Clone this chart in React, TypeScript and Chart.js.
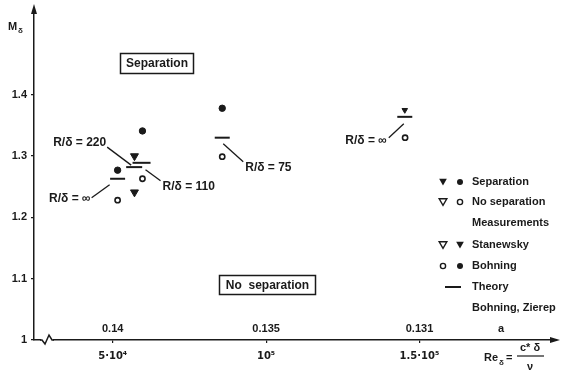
import React, { useEffect, useRef } from 'react';
import { Chart, registerables } from 'chart.js';

Chart.register(...registerables);

// ---------- data ----------
const xTickValues = [50000, 100000, 150000];
const xTickLabels = ['5·10⁴', '10⁵', '1.5·10⁵'];
const alphaLabels = ['0.14', '0.135', '0.131'];
const yTickValues = [1, 1.1, 1.2, 1.3, 1.4];

// Stanewsky – separation (▼)
const stanSepX = [57100, 145200];
const stanSepY = [1.3, 1.375];
// Stanewsky – no separation (▽)
const stanNoSepX = [57100];
const stanNoSepY = [1.241];
// Bohning – separation (●)
const bohSepX = [51600, 59700, 85700];
const bohSepY = [1.277, 1.341, 1.378];
// Bohning – no separation (○)
const bohNoSepX = [51600, 59700, 85700, 145300];
const bohNoSepY = [1.228, 1.263, 1.299, 1.33];
// Theory (Bohning, Zierep)
const theoryX = [51600, 57000, 59400, 85700, 145200];
const theoryY = [1.263, 1.282, 1.289, 1.33, 1.364];
const theoryLabels = ['R/δ = ∞', 'R/δ = 220', 'R/δ = 110', 'R/δ = 75', 'R/δ = ∞'];

const legendRows = ['Separation', 'No separation', 'Measurements', 'Stanewsky', 'Bohning', 'Theory', 'Bohning, Zierep'];

// ---------- style ----------
const INK = '#1a1a1a';
const FAMILY = '"Liberation Sans", Arial, "DejaVu Sans", sans-serif';
const f = (size: number) => `bold ${size}px ${FAMILY}`;

// leader-line layout for theory labels: [startDx, startDy, endDx, endDy, textDx, textDy, align]
const labelLayout: [number, number, number, number, number, number, CanvasTextAlign][] = [
  [-8, 6, -26, 19, -27, 20, 'right'],
  [-3, -2, -27, -20, -28, -24, 'right'],
  [4, 7, 19, 18, 21, 24, 'left'],
  [1, 6, 21, 24, 23, 30, 'left'],
  [-1, 7, -16, 21, -18, 24, 'right'],
];

const toPts = (xs: number[], ys: number[]) => xs.map((x, i) => ({ x, y: ys[i] }));

function drawTri(ctx: CanvasRenderingContext2D, cx: number, cy: number, r: number, fill: boolean) {
  ctx.beginPath();
  ctx.moveTo(cx - r * 0.87, cy - r * 0.5);
  ctx.lineTo(cx + r * 0.87, cy - r * 0.5);
  ctx.lineTo(cx, cy + r);
  ctx.closePath();
  if (fill) ctx.fill();
  else ctx.stroke();
}
function drawCirc(ctx: CanvasRenderingContext2D, cx: number, cy: number, r: number, fill: boolean) {
  ctx.beginPath();
  ctx.arc(cx, cy, r, 0, Math.PI * 2);
  if (fill) ctx.fill();
  else ctx.stroke();
}

const extras = {
  id: 'extras',
  afterDraw(chart: any) {
    const { ctx, chartArea: ca, scales } = chart;
    const xs = scales.x;
    const ys = scales.y;
    ctx.save();
    ctx.strokeStyle = INK;
    ctx.fillStyle = INK;
    ctx.lineWidth = 1.5;

    // y arrow
    ctx.beginPath();
    ctx.moveTo(ca.left, ca.top);
    ctx.lineTo(ca.left, 8);
    ctx.stroke();
    ctx.beginPath();
    ctx.moveTo(ca.left, 4);
    ctx.lineTo(ca.left - 3, 14);
    ctx.lineTo(ca.left + 3, 14);
    ctx.closePath();
    ctx.fill();
    // x arrow
    ctx.beginPath();
    ctx.moveTo(ca.right, ca.bottom);
    ctx.lineTo(556, ca.bottom);
    ctx.stroke();
    ctx.beginPath();
    ctx.moveTo(560, ca.bottom);
    ctx.lineTo(550, ca.bottom - 3);
    ctx.lineTo(550, ca.bottom + 3);
    ctx.closePath();
    ctx.fill();

    // axis break squiggle
    ctx.fillStyle = '#fff';
    ctx.fillRect(41, ca.bottom - 2, 12, 4);
    ctx.fillStyle = INK;
    ctx.beginPath();
    ctx.moveTo(40, ca.bottom);
    ctx.lineTo(42, ca.bottom);
    ctx.lineTo(45, ca.bottom + 4);
    ctx.lineTo(49, ca.bottom - 5);
    ctx.lineTo(52, ca.bottom);
    ctx.lineTo(54, ca.bottom);
    ctx.stroke();

    // M_delta
    ctx.textBaseline = 'middle';
    ctx.textAlign = 'left';
    ctx.font = f(11);
    ctx.fillText('M', 8, 27);
    ctx.font = f(8);
    ctx.fillText('δ', 18, 31);

    // alpha labels above x-axis
    ctx.font = f(11);
    ctx.textAlign = 'center';
    alphaLabels.forEach((t, i) => ctx.fillText(t, xs.getPixelForValue(xTickValues[i]), 329));
    ctx.fillText('a', 501, 329);

    // Re_delta = c* delta / nu
    ctx.textAlign = 'left';
    ctx.font = f(11);
    ctx.fillText('Re', 484, 358);
    ctx.font = f(8);
    ctx.fillText('δ', 499, 363);
    ctx.font = f(11);
    ctx.fillText('=', 506, 358);
    ctx.textAlign = 'center';
    ctx.fillText('c* δ', 530, 348);
    ctx.fillText('ν', 530, 367);
    ctx.lineWidth = 1.2;
    ctx.beginPath();
    ctx.moveTo(517, 356);
    ctx.lineTo(544, 356);
    ctx.stroke();

    // boxed region labels
    ctx.font = f(12);
    ctx.lineWidth = 1.5;
    ctx.strokeRect(120.5, 53.5, 73, 20);
    ctx.fillText('Separation', 157, 64);
    ctx.strokeRect(219.5, 275.5, 96, 19);
    ctx.fillText('No  separation', 267.5, 285.5);

    // theory labels with leader lines
    ctx.font = f(12);
    ctx.lineWidth = 1.3;
    theoryX.forEach((xv, i) => {
      const px = xs.getPixelForValue(xv);
      const py = ys.getPixelForValue(theoryY[i]);
      const [sx, sy, ex, ey, tx, ty, al] = labelLayout[i];
      ctx.beginPath();
      ctx.moveTo(px + sx, py + sy);
      ctx.lineTo(px + ex, py + ey);
      ctx.stroke();
      ctx.textAlign = al;
      ctx.fillText(theoryLabels[i], px + tx, py + ty);
    });

    // legend
    const rowY = [182, 202, 223, 245, 266, 287, 308];
    ctx.textAlign = 'left';
    ctx.font = f(11);
    legendRows.forEach((t, i) => ctx.fillText(t, 472, rowY[i]));
    ctx.lineWidth = 1.4;
    drawTri(ctx, 443, rowY[0] - 1, 4.4, true);
    drawCirc(ctx, 460, rowY[0], 3, true);
    drawTri(ctx, 443, rowY[1] - 1, 4.4, false);
    drawCirc(ctx, 460, rowY[1], 2.6, false);
    drawTri(ctx, 443, rowY[3] - 1, 4.4, false);
    drawTri(ctx, 460, rowY[3] - 1, 4.4, true);
    drawCirc(ctx, 443, rowY[4], 2.6, false);
    drawCirc(ctx, 460, rowY[4], 3, true);
    ctx.lineWidth = 2;
    ctx.beginPath();
    ctx.moveTo(445, rowY[5]);
    ctx.lineTo(461, rowY[5]);
    ctx.stroke();

    ctx.restore();
  },
};

export default function App() {
  const ref = useRef<HTMLCanvasElement>(null);
  useEffect(() => {
    if (!ref.current) return;
    const chart = new Chart(ref.current, {
      type: 'scatter',
      data: {
        datasets: [
          {
            label: 'Stanewsky separation',
            data: toPts(stanSepX, stanSepY),
            pointStyle: 'triangle',
            rotation: 180,
            pointRadius: [4.6, 3.2],
            backgroundColor: INK,
            borderColor: INK,
            borderWidth: 1,
          },
          {
            label: 'Stanewsky no separation',
            data: toPts(stanNoSepX, stanNoSepY),
            pointStyle: 'triangle',
            rotation: 180,
            pointRadius: 4.6,
            backgroundColor: INK,
            borderColor: INK,
            borderWidth: 1,
          },
          {
            label: 'Bohning separation',
            data: toPts(bohSepX, bohSepY),
            pointStyle: 'circle',
            pointRadius: 3.2,
            backgroundColor: INK,
            borderColor: INK,
            borderWidth: 1,
          },
          {
            label: 'Bohning no separation',
            data: toPts(bohNoSepX, bohNoSepY),
            pointStyle: 'circle',
            pointRadius: 2.6,
            backgroundColor: '#fff',
            borderColor: INK,
            borderWidth: 1.6,
          },
          {
            label: 'Theory',
            data: toPts(theoryX, theoryY),
            pointStyle: 'line',
            pointRadius: [7.5, 8, 9, 7.5, 7.5],
            borderColor: INK,
            backgroundColor: INK,
            borderWidth: 2,
          },
        ],
      },
      options: {
        responsive: false,
        animation: false,
        events: [],
        layout: { padding: { left: 0, top: 12, right: 9, bottom: 0 } },
        plugins: { legend: { display: false }, tooltip: { enabled: false } },
        scales: {
          x: {
            type: 'linear',
            min: 24350,
            max: 192530,
            afterFit: (s: any) => {
              s.height = 36;
            },
            afterBuildTicks: (s: any) => {
              s.ticks = xTickValues.map((v) => ({ value: v }));
            },
            ticks: {
              autoSkip: false,
              maxRotation: 0,
              padding: 7,
              color: INK,
              font: { family: '"DejaVu Sans", sans-serif', size: 10, weight: 'bold' },
              callback: (v: any) => {
                const i = xTickValues.indexOf(Number(v));
                return i >= 0 ? xTickLabels[i] : '';
              },
            },
            grid: { drawOnChartArea: false, tickLength: 3, color: INK, lineWidth: 1.2 },
            border: { color: INK, width: 1.5 },
          },
          y: {
            type: 'linear',
            min: 1,
            max: 1.535,
            afterFit: (s: any) => {
              s.width = 34;
            },
            afterBuildTicks: (s: any) => {
              s.ticks = yTickValues.map((v) => ({ value: v }));
            },
            ticks: {
              autoSkip: false,
              padding: 4,
              color: INK,
              font: { family: FAMILY, size: 11, weight: 'bold' },
              callback: (v: any) => (Number(v) === 1 ? '1' : Number(v).toFixed(1)),
            },
            grid: { drawOnChartArea: false, tickLength: 3, color: INK, lineWidth: 1.2 },
            border: { color: INK, width: 1.5 },
          },
        },
      },
      plugins: [extras],
    });
    return () => chart.destroy();
  }, []);

  return (
    <div style={{ position: 'absolute', left: 0, top: 0, width: 561, height: 376, background: '#fff' }}>
      <canvas ref={ref} width={561} height={376} style={{ display: 'block', width: 561, height: 376 }} />
    </div>
  );
}
